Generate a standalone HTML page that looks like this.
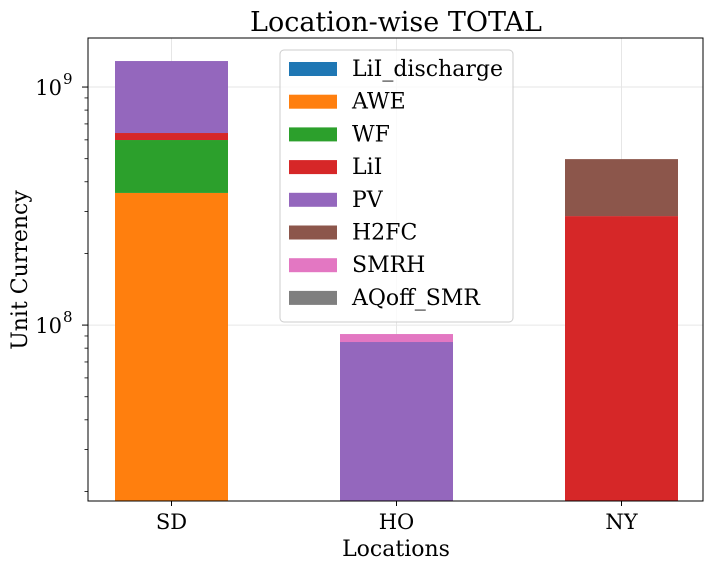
<!DOCTYPE html>
<html><head><meta charset="utf-8"><style>
body{margin:0;background:#fff;}
svg text{font-family:"DejaVu Serif","Liberation Serif",serif;fill:#000;}
</style></head><body>
<svg id="chart" width="716" height="570" xmlns="http://www.w3.org/2000/svg"></svg>
<script>
const categories=["SD","HO","NY"];
const seriesNames=["LiI_discharge","AWE","WF","LiI","PV","H2FC","SMRH","AQoff_SMR"];
const colors=["#1f77b4","#ff7f0e","#2ca02c","#d62728","#9467bd","#8c564b","#e377c2","#7f7f7f"];
const LiI_discharge=[0,0,0];
const AWE=[3.59e8,0,0];
const WF=[2.4e8,0,0];
const LiI=[0.42e8,0,2.87e8];
const PV=[6.45e8,8.49e7,0];
const H2FC=[0,0,2.11e8];
const SMRH=[0,0.68e7,0];
const AQoff_SMR=[0,0,0];
const seriesValues=[LiI_discharge,AWE,WF,LiI,PV,H2FC,SMRH,AQoff_SMR];
const yMajorTicks=[1e8,1e9];
const yTickLabels=["10","10"];
const yTickExps=["8","9"];

const NS="http://www.w3.org/2000/svg";
const svg=document.getElementById('chart');
const L=88,R=703,T=38,B=501;
const yMinLog=7.261,yMaxLog=9.206;
function y(v){return B-(Math.log10(v)-yMinLog)/(yMaxLog-yMinLog)*(B-T);}
function x(i){return 171.5+225*i;}
function el(t,a,p){const e=document.createElementNS(NS,t);for(const k in a)e.setAttribute(k,a[k]);(p||svg).appendChild(e);return e;}

for(let i=0;i<categories.length;i++){
 const g=el('line',{x1:x(i),x2:x(i),y1:T,y2:B,stroke:'#e6e6e6','stroke-width':1});
 
 
}
yMajorTicks.forEach(v=>{
 const g=el('line',{x1:L,x2:R,y1:y(v),y2:y(v),stroke:'#e6e6e6','stroke-width':1});
 
 
});
const bw=113;
categories.forEach((c,i)=>{
 let base=0;
 seriesValues.forEach((arr,s)=>{
  const v=arr[i]; if(!v) return;
  const bottom=base===0?B:y(base);
  const top=y(base+v);
  const r=el('rect',{x:x(i)-bw/2,y:top,width:bw,height:bottom-top,fill:colors[s]});
  
  
  base+=v;
 });
});
const fr=el('rect',{x:L,y:T,width:R-L,height:B-T,fill:'none',stroke:'#000','stroke-width':1});


categories.forEach((c,i)=>{
 el('line',{x1:x(i),x2:x(i),y1:B,y2:B+5,stroke:'#000'});
 const t=el('text',{x:x(i),y:B+28,'text-anchor':'middle','font-size':21});
 t.textContent=c;
 
 
});
yMajorTicks.forEach((v,k)=>{
 el('line',{x1:L-6,x2:L,y1:y(v),y2:y(v),stroke:'#000'});
 const t=el('text',{x:L-26,y:y(v)+8,'text-anchor':'end','font-size':21});
 t.textContent=yTickLabels[k];
 
 
 const e=el('text',{x:L-25,y:y(v)-3,'font-size':15});
 e.textContent=yTickExps[k];
});
for(let d=7;d<=9;d++)for(let m=2;m<=9;m++){
 const v=m*Math.pow(10,d);
 if(Math.log10(v)<yMinLog||Math.log10(v)>yMaxLog)continue;
 el('line',{x1:L-3.5,x2:L,y1:y(v),y2:y(v),stroke:'#000','stroke-width':0.8});
}
let t=el('text',{x:396,y:31,'text-anchor':'middle','font-size':27});t.textContent='Location-wise TOTAL';

t=el('text',{x:396,y:556,'text-anchor':'middle','font-size':22});t.textContent='Locations';

t=el('text',{x:0,y:0,'text-anchor':'middle','font-size':22,transform:'translate(27,270) rotate(-90)'});t.textContent='Unit Currency';

const lg=el('g',{});


el('rect',{x:280,y:50,width:233,height:272,rx:4,fill:'#fff','fill-opacity':0.8,stroke:'#ccc'},lg);
seriesNames.forEach((n,s)=>{
 const yy=69+s*32.7;
 const g=el('g',{},lg);
 
 
 el('rect',{x:289,y:yy-7,width:48,height:14,fill:colors[s]},g);
 const tx=el('text',{x:352,y:yy+7,'font-size':22},g);tx.textContent=n;
});
</script>
</body></html>
